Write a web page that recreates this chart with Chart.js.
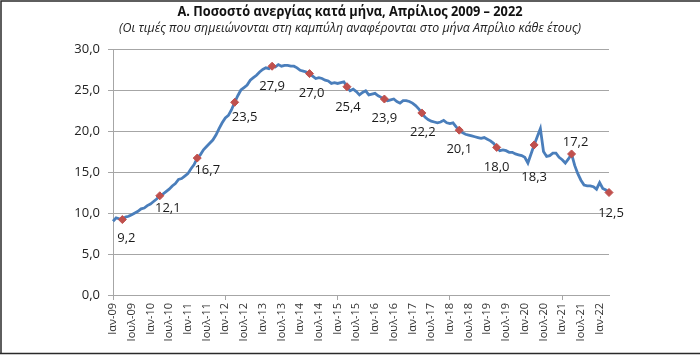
<!DOCTYPE html>
<html>
<head>
<meta charset="utf-8">
<script src="https://cdn.jsdelivr.net/npm/chart.js@4.4.1/dist/chart.umd.min.js"></script>
<style>
  html, body { margin: 0; padding: 0; background: #fff; }
  #wrap { position: relative; width: 700px; height: 356px; }
  canvas { display: block; }
</style>
</head>
<body>
<div id="wrap"><canvas id="c" width="700" height="356"></canvas></div>
<script>
// ---- Data ----
const chartTitle = 'Α. Ποσοστό ανεργίας κατά μήνα, Απρίλιος 2009 – 2022';
const chartSubtitle = '(Οι τιμές που σημειώνονται στη καμπύλη αναφέρονται στο μήνα Απρίλιο κάθε έτους)';

const years = [2009, 2010, 2011, 2012, 2013, 2014, 2015, 2016, 2017, 2018, 2019, 2020, 2021, 2022];

// Monthly unemployment rate (%), Jan 2009 – Apr 2022
const monthlyRate = [
  9.0, 9.4, 9.3, 9.2, 9.5, 9.6, 9.8, 10.0, 10.2, 10.5, 10.6, 10.9,        // 2009
  11.1, 11.4, 11.7, 12.1, 12.3, 12.6, 12.9, 13.3, 13.6, 14.1, 14.2, 14.5,  // 2010
  14.8, 15.4, 15.9, 16.7, 17.1, 17.7, 18.1, 18.5, 18.9, 19.5, 20.3, 21.0,  // 2011
  21.6, 21.9, 22.6, 23.5, 24.3, 25.0, 25.3, 25.6, 26.2, 26.5, 26.8, 27.2,  // 2012
  27.5, 27.7, 27.6, 27.9, 27.8, 28.1, 27.9, 28.0, 28.0, 27.9, 27.9, 27.7,  // 2013
  27.4, 27.3, 27.2, 27.0, 26.7, 26.4, 26.5, 26.4, 26.2, 26.1, 25.8, 25.9,  // 2014
  25.8, 25.9, 26.0, 25.4, 24.9, 25.1, 24.8, 24.4, 24.7, 24.9, 24.4, 24.5,  // 2015
  24.6, 24.3, 24.1, 23.9, 23.7, 23.8, 23.9, 23.6, 23.4, 23.7, 23.7, 23.6,  // 2016
  23.4, 23.1, 22.7, 22.2, 21.7, 21.4, 21.2, 21.1, 21.0, 21.1, 21.3, 21.0,  // 2017
  20.9, 21.0, 20.5, 20.1, 19.8, 19.6, 19.5, 19.4, 19.3, 19.2, 19.1, 19.2,  // 2018
  19.0, 18.8, 18.5, 18.0, 17.6, 17.7, 17.6, 17.4, 17.4, 17.2, 17.1, 17.0,  // 2019
  16.8, 16.1, 17.2, 18.3, 19.3, 20.3, 17.5, 16.9, 17.0, 17.3, 17.3, 16.8,  // 2020
  16.5, 16.1, 16.6, 17.2, 15.8, 14.8, 14.0, 13.4, 13.3, 13.3, 13.2, 12.9,  // 2021
  13.7, 13.0, 12.8, 12.5                                                    // 2022
];

// April values highlighted on the curve
const aprilValues = [9.2, 12.1, 16.7, 23.5, 27.9, 27.0, 25.4, 23.9, 22.2, 20.1, 18.0, 18.3, 17.2, 12.5];

// Axis tick labels (every 6 months)
const tickLabels = [
  'Ιαν-09', 'Ιουλ-09', 'Ιαν-10', 'Ιουλ-10', 'Ιαν-11', 'Ιουλ-11', 'Ιαν-12', 'Ιουλ-12',
  'Ιαν-13', 'Ιουλ-13', 'Ιαν-14', 'Ιουλ-14', 'Ιαν-15', 'Ιουλ-15', 'Ιαν-16', 'Ιουλ-16',
  'Ιαν-17', 'Ιουλ-17', 'Ιαν-18', 'Ιουλ-18', 'Ιαν-19', 'Ιουλ-19', 'Ιαν-20', 'Ιουλ-20',
  'Ιαν-21', 'Ιουλ-21', 'Ιαν-22'
];

// Label placement for the April value labels (pixel offsets from the marker)
const labelOffsets = [
  [4, 19], [8, 13], [10, 12], [10, 15], [0, 20], [2, 20], [1, 21],
  [0, 19], [1, 19], [0, 19], [0, 20], [0, 32], [4, -12], [2, 21]
];

// ---- Build categories (one per month) ----
const categories = [];
for (let i = 0; i < monthlyRate.length; i++) {
  const y = years[0] + Math.floor(i / 12);
  const m = (i % 12) + 1;
  categories.push(y + '-' + (m < 10 ? '0' + m : m));
}
const aprilPoints = aprilValues.map((v, k) => ({ x: categories[3 + 12 * k], y: v }));

const fmt = v => v.toFixed(1).replace('.', ',');
const FONT = '"Open Sans", "DejaVu Sans", sans-serif';
const GRID = '#a6a6a6';

function drawFittedText(ctx, text, font, cx, cy, targetW, color) {
  ctx.save();
  ctx.font = font;
  ctx.fillStyle = color;
  ctx.textAlign = 'center';
  ctx.textBaseline = 'middle';
  const w = ctx.measureText(text).width;
  const sx = Math.min(1, targetW / w);
  ctx.translate(cx, cy);
  ctx.scale(sx, 1);
  ctx.fillText(text, 0, 0);
  ctx.restore();
}

const decorPlugin = {
  id: 'decor',
  beforeDraw(chart) {
    const ctx = chart.ctx;
    ctx.save();
    ctx.fillStyle = '#ffffff';
    ctx.fillRect(0, 0, chart.width, chart.height);
    ctx.restore();
  },
  afterDatasetsDraw(chart) {
    const ctx = chart.ctx;
    const meta = chart.getDatasetMeta(0);
    ctx.save();
    ctx.font = '13px ' + FONT;
    ctx.fillStyle = '#1a1a1a';
    ctx.textAlign = 'center';
    ctx.textBaseline = 'middle';
    meta.data.forEach((pt, k) => {
      const off = labelOffsets[k] || [0, 20];
      ctx.fillText(fmt(aprilValues[k]), pt.x + off[0], pt.y + off[1]);
    });
    ctx.restore();
  },
  afterDraw(chart) {
    const ctx = chart.ctx;
    drawFittedText(ctx, chartTitle, 'bold 14px ' + FONT, 350, 12, 345, '#111');
    drawFittedText(ctx, chartSubtitle, 'italic 12.5px ' + FONT, 350, 28, 462, '#222');
    ctx.save();
    ctx.strokeStyle = '#2a2a2a';
    ctx.lineWidth = 1.5;
    ctx.beginPath();
    ctx.moveTo(1, 353.5); ctx.lineTo(1, 1); ctx.lineTo(700, 1);
    ctx.moveTo(0, 353.5); ctx.lineTo(700, 353.5);
    ctx.stroke();
    ctx.restore();
  }
};

new Chart(document.getElementById('c'), {
  type: 'line',
  data: {
    labels: categories,
    datasets: [
      {
        label: 'Απρίλιος',
        data: aprilPoints,
        showLine: false,
        pointStyle: 'rectRot',
        pointRadius: 4,
        pointBackgroundColor: '#c0504d',
        pointBorderColor: '#c0504d',
        pointBorderWidth: 1
      },
      {
        label: 'Ποσοστό ανεργίας',
        data: monthlyRate,
        borderColor: '#4a7ebb',
        borderWidth: 2.8,
        pointRadius: 0,
        tension: 0,
        fill: false
      }
    ]
  },
  options: {
    responsive: false,
    animation: false,
    devicePixelRatio: 1,
    layout: { padding: { top: 49, right: 91, bottom: 0, left: 0 } },
    plugins: {
      legend: { display: false },
      tooltip: { enabled: false },
      title: { display: false },
      subtitle: { display: false }
    },
    scales: {
      x: {
        type: 'category',
        offset: false,
        afterFit: s => { s.height = 61; },
        ticks: {
          autoSkip: false,
          maxRotation: 90,
          minRotation: 90,
          padding: 3,
          color: '#333',
          font: { family: FONT, size: 11 },
          callback: (val, idx) => (idx % 6 === 0 ? tickLabels[idx / 6] : null)
        },
        grid: {
          drawOnChartArea: false,
          drawTicks: true,
          tickLength: 5,
          color: c => (c.index % 6 === 0 ? GRID : 'rgba(0,0,0,0)')
        },
        border: { display: true, color: GRID, width: 1 }
      },
      y: {
        min: 0,
        max: 30,
        afterFit: s => { s.width = 113; },
        ticks: {
          stepSize: 5,
          padding: 8,
          color: '#222',
          font: { family: FONT, size: 13 },
          callback: v => fmt(v)
        },
        grid: { color: GRID, lineWidth: 1, drawTicks: true, tickLength: 5 },
        border: { display: true, color: GRID, width: 1 }
      }
    }
  },
  plugins: [decorPlugin]
});
</script>
</body>
</html>
